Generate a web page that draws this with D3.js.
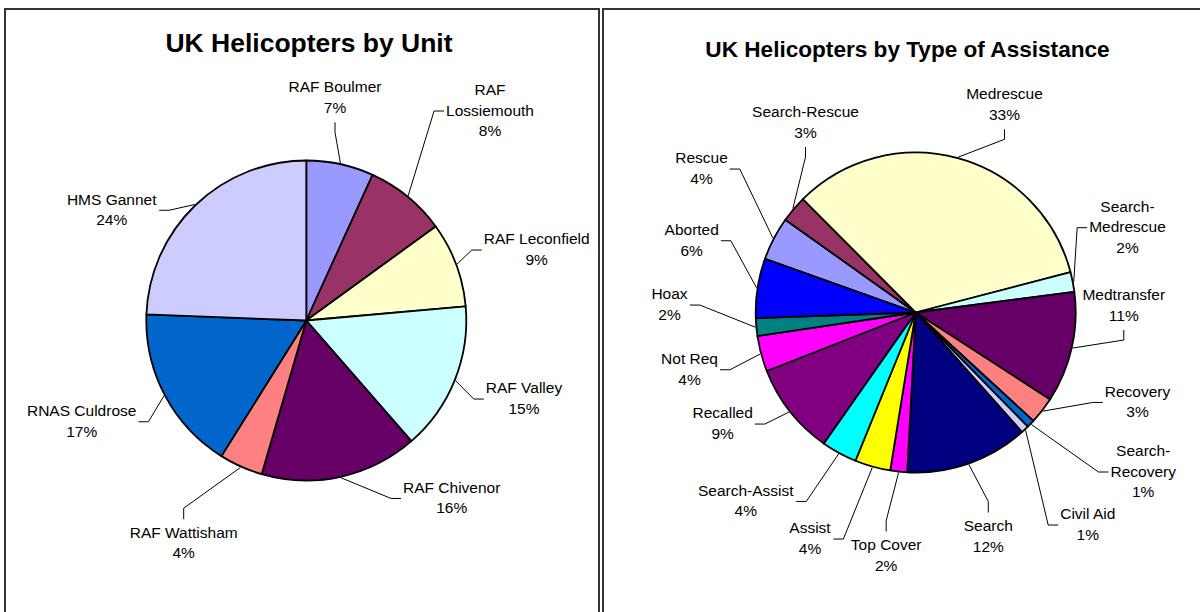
<!DOCTYPE html>
<html>
<head>
<meta charset="utf-8">
<script src="https://cdn.jsdelivr.net/npm/d3@7/dist/d3.min.js"></script>
<style>
  html, body { margin: 0; padding: 0; background: #fff; }
  svg { display: block; }
  text { font-family: "Liberation Sans", Arial, sans-serif; fill: #000; }
</style>
</head>
<body>
<svg id="chart" width="1200" height="612"></svg>
<script>
// ---------- DATA ----------
const unitNames  = ["RAF Boulmer", "RAF\nLossiemouth", "RAF Leconfield", "RAF Valley", "RAF Chivenor", "RAF Wattisham", "RNAS Culdrose", "HMS Gannet"];
const unitValues = [6.8, 8.2, 8.6, 15.0, 15.9, 4.4, 16.7, 24.4];

const typeNames  = ["Rescue", "Search-Rescue", "Medrescue", "Search-\nMedrescue", "Medtransfer", "Recovery", "Search-\nRecovery", "Civil Aid",
                    "Search", "Top Cover", "Assist", "Search-Assist", "Recalled", "Not Req", "Hoax", "Aborted"];
const typeValues = [4.4, 2.7, 33.4, 2.0, 11.2, 2.7, 0.8, 0.8, 12.4, 1.7, 3.6, 3.6, 9.3, 3.6, 1.8, 6.0];

const titles = ["UK Helicopters by Unit", "UK Helicopters by Type of Assistance"];

// ---------- STYLES ----------
const unitColors = ["#9999FF", "#993366", "#FFFFCC", "#CCFFFF", "#660066", "#FF8080", "#0066CC", "#CCCCFF"];
const typeColors = ["#9999FF", "#993366", "#FFFFCC", "#CCFFFF", "#660066", "#FF8080", "#0066CC", "#CCCCFF",
                    "#000080", "#FF00FF", "#FFFF00", "#00FFFF", "#800080", "#FF00FF", "#008080", "#0000FF"];

// ---------- LAYOUT (label placement: text centre x, first baseline y, side where leader attaches) ----------
const unitLabelLayout = [
  {x: 335,   y: 92.3,  side: "b"},
  {x: 490,   y: 95,    side: "l"},
  {x: 536.7, y: 244.3, side: "l"},
  {x: 524,   y: 393.3, side: "l"},
  {x: 451.7, y: 492.7, side: "l"},
  {x: 183.7, y: 537.7, side: "t"},
  {x: 81.7,  y: 416,   side: "r"},
  {x: 111.7, y: 204.5, side: "r"}
];
const typeLabelLayout = [
  {x: 701.5,  y: 163.3, side: "r"},
  {x: 805.5,  y: 117,   side: "b"},
  {x: 1004.5, y: 99.3,  side: "b"},
  {x: 1127.5, y: 211.7, side: "l"},
  {x: 1123.8, y: 300,   side: "b"},
  {x: 1137.5, y: 396.7, side: "l"},
  {x: 1143.2, y: 456,   side: "l"},
  {x: 1087.8, y: 519.3, side: "l"},
  {x: 988.3,  y: 531,   side: "t"},
  {x: 886.2,  y: 550,   side: "t"},
  {x: 810,    y: 533.3, side: "r"},
  {x: 745.8,  y: 495.7, side: "r"},
  {x: 722.7,  y: 418.3, side: "r"},
  {x: 689.5,  y: 364,   side: "r"},
  {x: 669.5,  y: 299.3, side: "r"},
  {x: 691.7,  y: 235,   side: "r"}
];

const svg = d3.select("#chart");
const FONT = 15.5, LINE = 20.5, R = 160;
const pct = d3.format(".0%");

// panel frames
svg.append("rect").attr("x", 5).attr("y", 9).attr("width", 594).attr("height", 640)
  .attr("fill", "#fff").attr("stroke", "#333").attr("stroke-width", 2);
svg.append("rect").attr("x", 603).attr("y", 9).attr("width", 640).attr("height", 640)
  .attr("fill", "#fff").attr("stroke", "#333").attr("stroke-width", 2);

// titles
svg.append("text").attr("x", 309).attr("y", 51.7).attr("text-anchor", "middle")
  .attr("font-size", 26.5).attr("font-weight", "bold").text(titles[0]);
svg.append("text").attr("x", 907.5).attr("y", 57.3).attr("text-anchor", "middle")
  .attr("font-size", 22.6).attr("font-weight", "bold").text(titles[1]);

function drawPie(names, values, colors, layout, cx, cy, startDeg) {
  const total = d3.sum(values);
  const start = startDeg * Math.PI / 180;
  const pie = d3.pie().sort(null).value(d => d.v).startAngle(start).endAngle(start + 2 * Math.PI);
  const arcs = pie(values.map((v, i) => ({v, i})));
  const arc = d3.arc().innerRadius(0).outerRadius(R);

  const g = svg.append("g").attr("transform", `translate(${cx},${cy})`);
  g.selectAll("path.slice").data(arcs).join("path")
    .attr("class", "slice")
    .attr("d", arc)
    .attr("fill", d => colors[d.data.i])
    .attr("stroke", "#000").attr("stroke-width", 1.8).attr("stroke-linejoin", "round");

  const lg = svg.append("g");
  arcs.forEach(a => {
    const i = a.data.i;
    const L = layout[i];
    const lines = names[i].split("\n").concat([pct(values[i] / total)]);
    const t = lg.append("text").attr("text-anchor", "middle").attr("font-size", FONT);
    lines.forEach((s, k) => t.append("tspan").attr("x", L.x).attr("y", L.y + k * LINE).text(s));
    const bb = t.node().getBBox();
    const lastBase = L.y + (lines.length - 1) * LINE;
    const midY = (L.y - 14 + lastBase + 5) / 2;
    let ax, ay, ex, ey;
    if (L.side === "l") { ax = bb.x - 2; ay = midY; ex = ax - 10; ey = ay; }
    else if (L.side === "r") { ax = bb.x + bb.width + 2; ay = midY; ex = ax + 10; ey = ay; }
    else if (L.side === "t") { ax = L.x; ay = L.y - 18.5; ex = ax; ey = ay - 11; }
    else { ax = L.x; ay = lastBase + 9.5; ex = ax; ey = ay + 10; }
    const mid = (a.startAngle + a.endAngle) / 2;
    const px = cx + (R + 1) * Math.sin(mid), py = cy - (R + 1) * Math.cos(mid);
    lg.append("polyline")
      .attr("points", [[px, py], [ex, ey], [ax, ay]].map(p => p.join(",")).join(" "))
      .attr("fill", "none").attr("stroke", "#000").attr("stroke-width", 1);
  });
}

drawPie(unitNames, unitValues, unitColors, unitLabelLayout, 306.3, 320.5, 0);
drawPie(typeNames, typeValues, typeColors, typeLabelLayout, 915.7, 312.5, -70.4);
</script>
</body>
</html>
